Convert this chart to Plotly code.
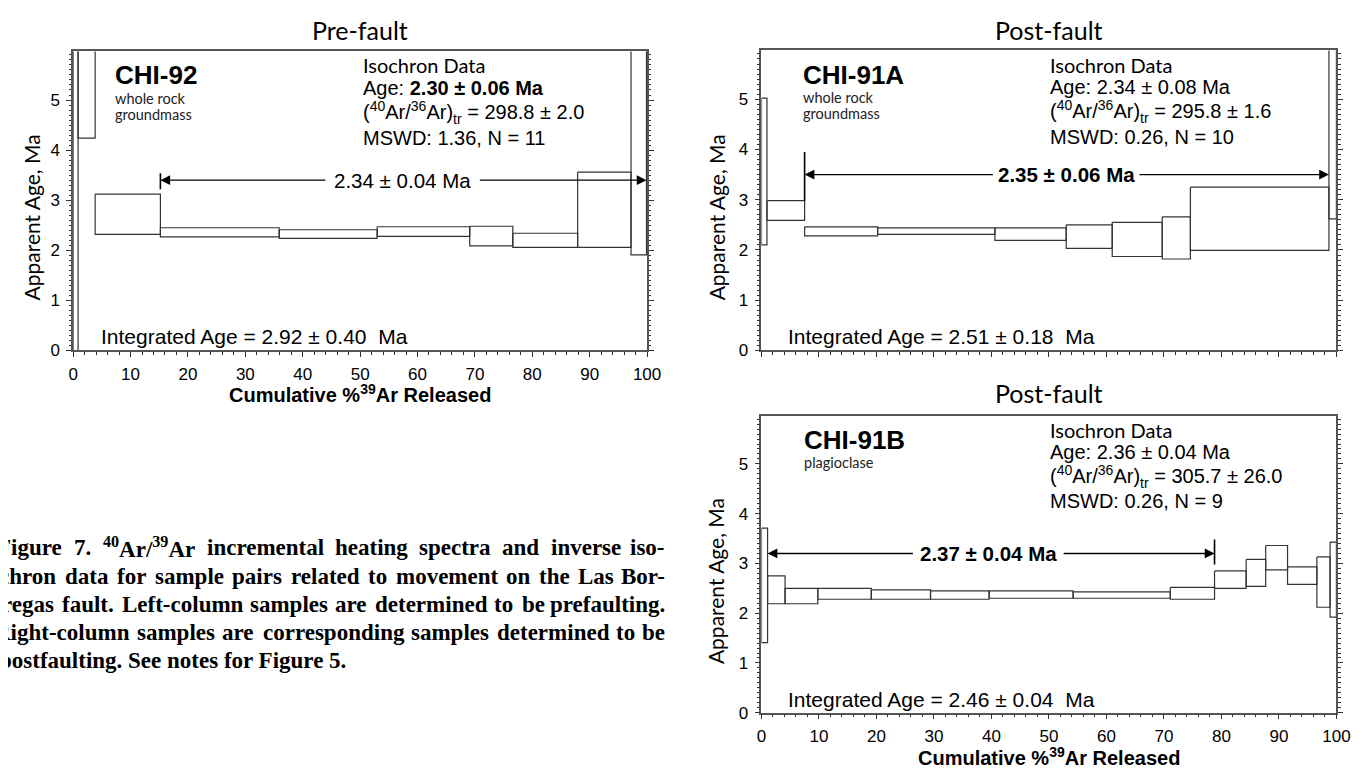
import re
import plotly.graph_objects as go

# ---------------- data ----------------
# CHI-92 (pre-fault)
edges_a = [0, 0.86, 3.83, 15.2, 35.9, 52.97, 69.1, 76.6, 87.9, 97.2, 99.9, 100]
hi_a = [8.0, 8.0, 3.12, 2.45, 2.41, 2.47, 2.48, 2.34, 3.56, 8.0, 4.47]
lo_a = [-1.0, 4.24, 2.32, 2.27, 2.24, 2.28, 2.09, 2.06, 2.06, 1.91, 3.23]

# CHI-91A (post-fault)
edges_b = [0, 0.95, 7.5, 20.2, 40.6, 53.0, 61.0, 69.7, 74.6, 98.7, 100]
hi_b = [5.02, 2.98, 2.46, 2.44, 2.44, 2.50, 2.55, 2.66, 3.25, 8.0]
lo_b = [2.10, 2.59, 2.28, 2.31, 2.19, 2.03, 1.87, 1.82, 1.99, 2.62]

# CHI-91B (post-fault)
edges_c = [0, 1.06, 4.1, 9.8, 19.1, 29.4, 39.6, 54.2, 71.1, 78.8, 84.3, 87.7, 91.5, 96.6, 98.9, 100]
hi_c = [3.71, 2.75, 2.50, 2.50, 2.47, 2.45, 2.45, 2.43, 2.52, 2.85, 3.08, 3.36, 2.93, 3.13, 3.43]
lo_c = [1.41, 2.19, 2.19, 2.28, 2.28, 2.28, 2.30, 2.30, 2.28, 2.50, 2.54, 2.87, 2.58, 2.12, 1.92]

# plateau: start %, end %, arrow age level, label
plateau_start = [15.2, 7.5, 1.06]
plateau_end = [99.9, 98.7, 78.8]
plateau_level = [3.40, 3.50, 3.20]
plateau_label = ["2.34 ± 0.04 Ma", "2.35 ± 0.06 Ma", "2.37 ± 0.04 Ma"]
# plateau boundary marker (x, y_low, y_high)
marker_x = [15.2, 7.5, 78.8]
marker_lo = [3.22, 2.98, 2.98]
marker_hi = [3.54, 3.95, 3.48]

sample_names = ["CHI-92", "CHI-91A", "CHI-91B"]
sample_material = [["whole rock", "groundmass"], ["whole rock", "groundmass"], ["plagioclase"]]
iso_age = ["2.30 ± 0.06 Ma", "2.34 ± 0.08 Ma", "2.36 ± 0.04 Ma"]
iso_ratio = ["298.8 ± 2.0", "295.8 ± 1.6", "305.7 ± 26.0"]
iso_mswd = ["1.36, N = 11", "0.26, N = 10", "0.26, N = 9"]
integrated_age = ["2.92 ± 0.40", "2.51 ± 0.18", "2.46 ± 0.04"]
panel_titles = ["Pre-fault", "Post-fault", "Post-fault"]

x_ticks = list(range(0, 101, 10))
y_ticks = [0, 1, 2, 3, 4, 5]

caption_lines = [
    "Figure 7. <sup>40</sup>Ar/<sup>39</sup>Ar incremental heating spectra and inverse iso-",
    "chron data for sample pairs related to movement on the Las Bor-",
    "regas fault. Left-column samples are determined to be prefaulting.",
    "Right-column samples are corresponding samples determined to be",
    "postfaulting. See notes for Figure 5.",
]

# ---------------- layout constants ----------------
W, H = 1372, 770
def fx(p):
    return p / W
def fy(p):
    return 1 - p / H

SANS = "Liberation Sans, Arial, sans-serif"
GOTH = "Lato, sans-serif"
SERIF = "Liberation Serif, Times New Roman, serif"

# pixel boxes of the three plot areas: (left, right, top, bottom)
boxes = [(61, 643, 44, 347), (759, 1342, 43, 347), (759, 1342, 413, 714)]
axis_ids = [("x", "y"), ("x2", "y2"), ("x3", "y3")]
all_edges = [edges_a, edges_b, edges_c]
all_hi = [hi_a, hi_b, hi_c]
all_lo = [lo_a, lo_b, lo_c]
text_gap = [(44.2, 70.6), (40.5, 65.5), (26.6, 52.3)]
label_bold = [False, True, True]
name_x = [7.0, 6.8, 7.0]
iso_x = [50.2, 49.8, 49.9]
iso_y = [5.69, 5.24, 4.75, 4.25]
integ_x = [4.5, 4.3, 4.3]

fig = go.Figure()
annotations = []

for k in range(3):
    xa, ya = axis_ids[k]
    edges, hi, lo = all_edges[k], all_hi[k], all_lo[k]
    xs, ys = [], []
    for i in range(len(lo)):
        x0, x1 = edges[i], edges[i + 1]
        xs += [x0, x1, x1, x0, x0, None]
        ys += [hi[i], hi[i], lo[i], lo[i], hi[i], None]
    fig.add_trace(go.Scatter(x=xs, y=ys, mode="lines", xaxis=xa, yaxis=ya,
                             line=dict(color="#333333", width=1.2),
                             hoverinfo="skip", showlegend=False))
    # plateau marker
    fig.add_trace(go.Scatter(x=[marker_x[k], marker_x[k]], y=[marker_lo[k], marker_hi[k]],
                             mode="lines", xaxis=xa, yaxis=ya,
                             line=dict(color="black", width=1.6),
                             hoverinfo="skip", showlegend=False))
    # plateau arrows
    g0, g1 = text_gap[k]
    lvl = plateau_level[k]
    for tip, tail in [(plateau_start[k], g0), (plateau_end[k], g1)]:
        annotations.append(dict(x=tip, y=lvl, ax=tail, ay=lvl, xref=xa, yref=ya,
                                axref=xa, ayref=ya, text="", showarrow=True,
                                arrowhead=2, arrowsize=1.5, arrowwidth=1.3,
                                arrowcolor="black"))
    lab = plateau_label[k]
    if label_bold[k]:
        lab = "<b>" + lab + "</b>"
    annotations.append(dict(x=(g0 + g1) / 2, y=lvl, xref=xa, yref=ya, text=lab,
                            showarrow=False, xanchor="center", yanchor="middle",
                            font=dict(family=SANS, size=20.5, color="black")))
    # sample name & material
    annotations.append(dict(x=name_x[k], y=5.49, xref=xa, yref=ya,
                            text="<b>" + sample_names[k] + "</b>", showarrow=False,
                            xanchor="left", yanchor="middle",
                            font=dict(family=SANS, size=26, color="black")))
    for j, m in enumerate(sample_material[k]):
        annotations.append(dict(x=name_x[k], y=5.03 - 0.32 * j, xref=xa, yref=ya,
                                text=m, showarrow=False, xanchor="left", yanchor="middle",
                                font=dict(family=GOTH, size=14.5, color="#222")))
    # isochron block
    age_txt = "<b>" + iso_age[k] + "</b>" if k == 0 else iso_age[k]
    iso_lines = [
        ("Isochron Data", GOTH, 20),
        ("Age: " + age_txt, SANS, 20),
        ("(<sup>40</sup>Ar/<sup>36</sup>Ar)<sub>tr</sub> = " + iso_ratio[k], SANS, 20),
        ("MSWD: " + iso_mswd[k], SANS, 20),
    ]
    for j, (t, fam, sz) in enumerate(iso_lines):
        annotations.append(dict(x=iso_x[k], y=iso_y[j], xref=xa, yref=ya,
                                text=t, showarrow=False, xanchor="left", yanchor="middle",
                                font=dict(family=fam, size=sz, color="black")))
    annotations.append(dict(x=integ_x[k], y=0.27, xref=xa, yref=ya,
                            text="Integrated Age = " + integrated_age[k] + "  Ma",
                            showarrow=False, xanchor="left", yanchor="middle",
                            font=dict(family=SANS, size=21, color="black")))

    # axes
    L, R, T, B = boxes[k]
    xkey = "xaxis" if k == 0 else "xaxis%d" % (k + 1)
    ykey = "yaxis" if k == 0 else "yaxis%d" % (k + 1)
    fig.layout[xkey] = dict(
        domain=[fx(L), fx(R)], anchor=ya, range=[0, 100],
        tickmode="array", tickvals=x_ticks, ticks="outside", ticklen=5,
        tickwidth=1.2, tickcolor="#333",
        minor=dict(tickmode="linear", tick0=0, dtick=2, ticks="outside",
                   ticklen=3, tickwidth=1, tickcolor="#333"),
        showticklabels=(k != 1), ticklabelstandoff=2,
        showline=True, linecolor="#555", linewidth=1.5, mirror=True,
        showgrid=False, zeroline=False,
        tickfont=dict(family=SANS, size=17, color="black"), fixedrange=True)
    fig.layout[ykey] = dict(
        domain=[fy(B), fy(T)], anchor=xa, range=[0, 5.97],
        tickmode="array", tickvals=y_ticks, ticks="outside", ticklen=5,
        tickwidth=1.2, tickcolor="#333",
        minor=dict(tickmode="linear", tick0=0, dtick=0.1, ticks="outside",
                   ticklen=2.5, tickwidth=1, tickcolor="#333"),
        showline=True, linecolor="#555", linewidth=1.5, mirror="allticks",
        showgrid=False, zeroline=False, ticklabelstandoff=3,
        tickfont=dict(family=SANS, size=17, color="black"), fixedrange=True)

    # panel title
    title_y = 22 if k < 2 else 390
    annotations.append(dict(x=fx((L + R) / 2), y=fy(title_y), xref="paper", yref="paper",
                            text=panel_titles[k], showarrow=False,
                            xanchor="center", yanchor="middle",
                            font=dict(family=GOTH, size=25, color="black")))
    # y-axis title
    yt_x = 19 if k == 0 else 713
    annotations.append(dict(x=fx(yt_x), y=fy((T + B) / 2 + 17), xref="paper", yref="paper",
                            text="Apparent Age, Ma", textangle=-90, showarrow=False,
                            xanchor="center", yanchor="middle",
                            font=dict(family=GOTH, size=21, color="black")))
    # x-axis title
    if k != 1:
        annotations.append(dict(x=fx((L + R) / 2), y=fy(B + 44), xref="paper", yref="paper",
                                text="<b>Cumulative %<sup>39</sup>Ar Released</b>",
                                showarrow=False, xanchor="center", yanchor="middle",
                                font=dict(family=SANS, size=20, color="black")))

# ---------------- caption (justified, word by word) ----------------
TB = {' ': 250, ',': 250, '-': 333, '.': 250, '/': 278, ':': 333,
      'A': 722, 'B': 667, 'C': 722, 'D': 722, 'E': 667, 'F': 611, 'G': 778, 'H': 778,
      'I': 389, 'L': 667, 'M': 944, 'N': 722, 'O': 778, 'P': 611, 'R': 722, 'S': 556,
      'T': 667,
      'a': 500, 'b': 556, 'c': 444, 'd': 556, 'e': 444, 'f': 333, 'g': 500, 'h': 556,
      'i': 278, 'j': 333, 'k': 556, 'l': 278, 'm': 833, 'n': 556, 'o': 500, 'p': 556,
      'q': 556, 'r': 444, 's': 389, 't': 333, 'u': 556, 'v': 500, 'w': 722, 'x': 500,
      'y': 500, 'z': 444}
CAP_SIZE = 23

def word_width(w):
    tot = 0.0
    for part in re.split(r'(<sup>.*?</sup>)', w):
        if part.startswith('<sup>'):
            tot += sum(TB.get(c, 500) for c in part[5:-6]) * 0.7
        else:
            tot += sum(TB.get(c, 500) for c in part)
    return tot / 1000.0 * CAP_SIZE

cap_y = [547, 575.5, 604, 632.5, 661]
cap_start = [-17, -15, -12, -20, -15]
cap_end = 662
for i, line in enumerate(caption_lines):
    yy = fy(cap_y[i])
    capfont = dict(family=SERIF, size=CAP_SIZE, color="black")
    if i == len(caption_lines) - 1:
        annotations.append(dict(x=fx(cap_start[i]), y=yy, xref="paper", yref="paper",
                                text="<b>" + line + "</b>", showarrow=False,
                                xanchor="left", yanchor="middle", font=capfont,
                                borderpad=0))
        continue
    words = line.split(" ")
    widths = [word_width(w) for w in words]
    gap = (cap_end - cap_start[i] - sum(widths)) / (len(words) - 1)
    pos = cap_start[i]
    for j, w in enumerate(words):
        last = j == len(words) - 1
        annotations.append(dict(x=fx(cap_end if last else pos), y=yy, xref="paper",
                                yref="paper", text="<b>" + w + "</b>", showarrow=False,
                                xanchor="right" if last else "left", yanchor="middle",
                                font=capfont, borderpad=0))
        pos += widths[j] + gap

fig.update_layout(width=W, height=H, margin=dict(l=0, r=0, t=0, b=0),
                  paper_bgcolor="white", plot_bgcolor="white",
                  annotations=annotations, showlegend=False)

fig.write_html("out.html")
